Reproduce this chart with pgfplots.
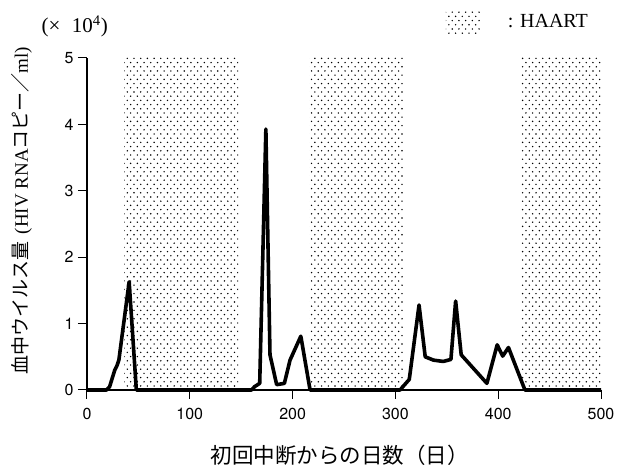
\documentclass[border=0pt]{standalone}
\usepackage{fontspec}
\usepackage{pgfplots}
\pgfplotsset{compat=1.18}
\usetikzlibrary{patterns}
\setmainfont{Liberation Serif}
\newfontfamily\heros{TeX Gyre Heros}
\newfontfamily\cjk{Noto Sans CJK JP}
\pgfdeclarepatternformonly{mydots}{\pgfqpoint{-1pt}{-1pt}}{\pgfqpoint{7.7pt}{9.4pt}}{\pgfqpoint{6.7pt}{8.4pt}}{%
  \pgfpathcircle{\pgfqpoint{0pt}{0pt}}{0.8pt}%
  \pgfpathcircle{\pgfqpoint{3.35pt}{4.2pt}}{0.8pt}%
  \pgfusepath{fill}}

\begin{document}
\begin{tikzpicture}
\begin{axis}[
  scale only axis, width=514pt, height=332pt,
  xmin=0, xmax=500, ymin=0, ymax=5,
  axis lines=left,
  axis line style={line width=1.1pt, -},
  xtick={0,100,...,500}, ytick={0,1,...,5},
  tick align=outside, major tick length=9pt,
  tick style={line width=1pt, black},
  ticklabel style={font=\heros\fontsize{16}{16}\selectfont},
  xticklabel style={yshift=-6pt},
  yticklabel style={xshift=-1pt},
  /pgf/number format/assume math mode=true,
  xlabel={\cjk\fontsize{21.5}{21.5}\selectfont 初回中断からの日数（日）},
  xlabel style={at={(axis description cs:0.492,-0.196)}, anchor=center},
  ylabel={\fontsize{19}{19}\selectfont{\cjk 血中ウイルス量}\hspace{0.4em}(HIV RNA{\cjk コピー／}ml)},
  ylabel style={at={(axis description cs:-0.1265,0.54)}, anchor=center},
  legend style={at={(axis description cs:0.9786,1.108)}, anchor=east, draw=none, fill=none,
    font=\fontsize{20}{20}\selectfont, inner sep=0pt, row sep=0pt},
  legend cell align=left,
  clip=false,
]
\addplot[draw=none, pattern=mydots, pattern color=black,
  legend image code/.code={\path[pattern=mydots, pattern color=black] (0pt,-11.5pt) rectangle (35pt,11.5pt);}]
  coordinates {(36,5) (147,5)} \closedcycle;
\addlegendentry{\hspace{25pt}: HAART}
\addplot[draw=none, pattern=mydots, pattern color=black, forget plot]
  coordinates {(216,5) (308,5)} \closedcycle;
\addplot[draw=none, pattern=mydots, pattern color=black, forget plot]
  coordinates {(423,5) (500,5)} \closedcycle;
\addplot[black, line width=3.6pt, line join=round, forget plot] coordinates {
 (0,0) (19,0) (22,0.05) (27,0.3) (29,0.36) (31,0.45) (41,1.63) (48,0)
 (160,0) (163,0.05) (168,0.1) (174,3.93) (178,0.53) (184.5,0.08) (192,0.1)
 (197.5,0.45) (208,0.81) (217,0)
 (304.5,0) (313.5,0.16) (323,1.28) (329,0.5) (337,0.45) (346.5,0.43) (354,0.46)
 (358.6,1.34) (364,0.53) (389,0.1) (399,0.68) (404.4,0.51) (410,0.64) (426,0)
 (500,0)
};
\node[font=\fontsize{21}{21}\selectfont, anchor=center] at (axis description cs:-0.024,1.095) {(×\hspace{0.55em}10\textsuperscript{4})};
\coordinate (O) at (rel axis cs:0,0);
\end{axis}
\pgfresetboundingbox
\path (O) ++(-87pt,-80pt) rectangle ++(626pt,470pt);
\end{tikzpicture}
\end{document}
